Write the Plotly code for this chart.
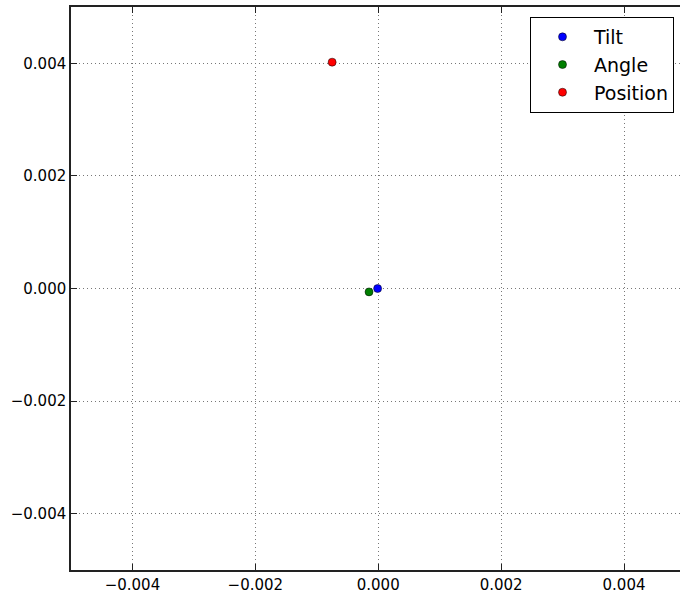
import plotly.graph_objects as go

series_names = ["Tilt", "Angle", "Position"]
x_values = [-0.00001, -0.00015, -0.00075]
y_values = [0.0, -0.00006, 0.00402]
colors = ["#0000ff", "#007f00", "#ff0000"]
tick_vals = [-0.004, -0.002, 0.0, 0.002, 0.004]

fig = go.Figure()
for name, xv, yv, c in zip(series_names, x_values, y_values, colors):
    fig.add_trace(go.Scatter(
        x=[xv], y=[yv], mode="markers", name=name,
        marker=dict(color=c, size=8, line=dict(color="#000000", width=0.5)),
    ))

W, H = 680, 593
L, T, B = 71, 7, 22.5
axis_common = dict(
    showgrid=True, gridcolor="#777777", gridwidth=1, griddash="1px,3px",
    zeroline=False, showline=True, linecolor="#222222", linewidth=1.5,
    ticks="inside", ticklen=6, tickcolor="#222222", tickwidth=1,
    tickvals=tick_vals, tickformat=".3f",
    tickfont=dict(family="DejaVu Sans", size=15, color="#000000"),
)
fig.update_layout(
    width=W, height=H,
    margin=dict(l=L, r=0, t=T, b=B, pad=0),
    paper_bgcolor="white", plot_bgcolor="white",
    font=dict(family="DejaVu Sans", color="#000000"),
    xaxis=dict(range=[-0.005, 0.004911], mirror="ticks", **axis_common),
    yaxis=dict(range=[-0.005, 0.005], mirror=False, **axis_common),
    showlegend=True,
    legend=dict(
        x=(530 - L) / (W - L), y=(H - B - 17) / (H - B - T),
        xanchor="left", yanchor="top",
        bordercolor="#000000", borderwidth=1, bgcolor="white",
        font=dict(family="DejaVu Sans", size=19, color="#000000"),
        itemwidth=53, tracegroupgap=0,
    ),
)
fig.write_html(
    "out.html",
    config={"displayModeBar": False},
    post_script="document.body.style.margin='0';document.body.style.overflow='hidden';",
)
